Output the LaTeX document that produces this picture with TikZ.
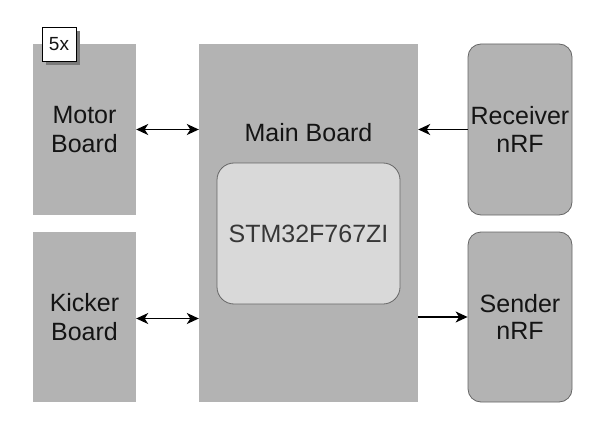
\documentclass[tikz,border=0pt]{standalone}
\usepackage{fontspec}
\setmainfont{Liberation Sans}
\usetikzlibrary{arrows.meta}
\definecolor{boardgray}{HTML}{B3B3B3}
\definecolor{chipgray}{HTML}{D9D9D9}
\definecolor{edgegray}{HTML}{666666}
\definecolor{shadowgray}{HTML}{7A7A7A}
\definecolor{txt}{HTML}{141414}
\begin{document}
\begin{tikzpicture}[x=1pt,y=-1pt,
  >={Stealth[length=12pt,width=11pt,inset=3.5pt]},
  board/.style={rectangle, fill=boardgray, draw=none, inner sep=0pt, align=center, text=txt,
    font=\fontsize{25}{29.5}\selectfont},
  radio/.style={rectangle, rounded corners=13pt, fill=boardgray, draw=edgegray, line width=0.8pt,
    inner sep=0pt, align=center, text=txt, font=\fontsize{25}{27.5}\selectfont},
  chip/.style={rectangle, rounded corners=17pt, fill=chipgray, draw=edgegray, line width=0.8pt,
    inner sep=0pt, text=txt!85, font=\fontsize{25}{28}\selectfont},
  tag/.style={rectangle, fill=white, draw=black, line width=0.8pt, inner sep=0pt,
    minimum width=34pt, minimum height=34pt, font=\fontsize{19}{22}\selectfont, text=txt},
  link/.style={line width=1.4pt, black}
  ]
\useasboundingbox (0,0) rectangle (596,422);
\fill[white] (0,0) rectangle (596,422);

\node[board, minimum width=103pt, minimum height=171pt] (motor) at (84.5,129.5) {Motor\\Board};
\node[board, minimum width=103pt, minimum height=170pt] (kicker) at (84.5,317) {Kicker\\Board};
\node[board, minimum width=219pt, minimum height=358pt] (main) at (308.5,223) {};
\node[text=txt, font=\fontsize{25}{28}\selectfont] (mainlbl) at (308.5,133) {Main Board};
\node[chip, minimum width=183pt, minimum height=141pt] (stm) at (308.5,233.5) {STM32F767ZI};
\node[radio, minimum width=104pt, minimum height=171pt] (recv) at (520,129.5) {Receiver\\nRF};
\node[radio, minimum width=104pt, minimum height=170pt] (send) at (520,317) {Sender\\nRF};

\fill[shadowgray] (46,31) rectangle (80,65);
\node[tag] (five) at (59,44) {5x};

\draw[link, <->] (motor.east) -- (motor.east -| main.west);
\draw[link, <->] ([yshift=-1.5pt]kicker.east) -- ([yshift=-1.5pt]kicker.east -| main.west);
\draw[link, ->] (recv.west) -- (recv.west -| main.east);
\draw[link, ->] (send.west -| main.east) -- (send.west);
\end{tikzpicture}
\end{document}
